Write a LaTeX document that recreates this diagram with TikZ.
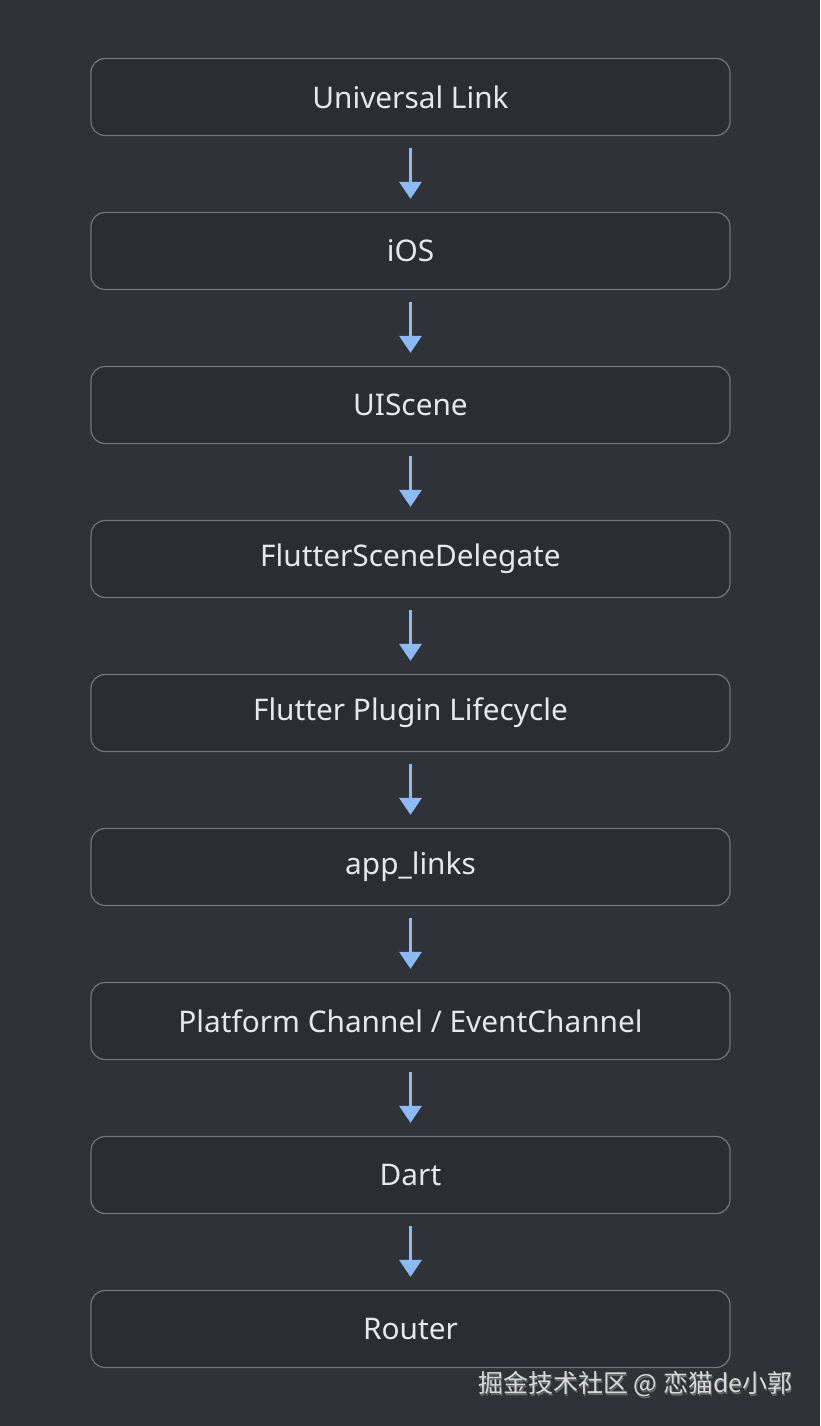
\documentclass[tikz,border=0pt]{standalone}
\usepackage{fontspec}
\setmainfont{Noto Sans}
\newfontfamily\cjk{Noto Sans CJK SC}
\definecolor{bgcol}{HTML}{2F3237}
\definecolor{boxfill}{HTML}{2A2D31}
\definecolor{boxline}{HTML}{72767D}
\definecolor{arrowcol}{HTML}{8DBAF4}
\definecolor{textcol}{HTML}{E6E8EB}
\tikzset{
  stage/.style={draw=boxline, fill=boxfill, line width=1.2pt, rounded corners=14pt,
    minimum width=639pt, minimum height=77pt, text=textcol,
    font=\fontsize{29.8}{34}\selectfont},
  flow/.style={draw=arrowcol, line width=3pt, -{Triangle[width=22pt,length=17pt]},
    shorten <=12pt, shorten >=13pt}
}
\usetikzlibrary{arrows.meta}
\begin{document}
\begin{tikzpicture}[x=1pt,y=-1pt]

    \fill[bgcol] (0,0) rectangle (820,1426);
    \useasboundingbox (0,0) rectangle (820,1426);

    \node[stage] (link) at (410.5,97)
        {Universal Link};

    \node[stage] (ios) at (410.5,251)
        {iOS};

    \node[stage] (scene) at (410.5,405)
        {UIScene};

    \node[stage] (delegate) at (410.5,559)
        {FlutterSceneDelegate};

    \node[stage] (plugin) at (410.5,713)
        {Flutter Plugin Lifecycle};

    \node[stage] (applinks) at (410.5,867)
        {app\_links};

    \node[stage] (channel) at (410.5,1021)
        {Platform Channel / EventChannel};

    \node[stage] (dart) at (410.5,1175)
        {Dart};

    \node[stage] (router) at (410.5,1329)
        {Router};

    \draw[flow] (link) -- (ios);
    \draw[flow] (ios) -- (scene);
    \draw[flow] (scene) -- (delegate);
    \draw[flow] (delegate) -- (plugin);
    \draw[flow] (plugin) -- (applinks);
    \draw[flow] (applinks) -- (channel);
    \draw[flow] (channel) -- (dart);
    \draw[flow] (dart) -- (router);

    % watermark
    \node[anchor=east, text=black!60, font=\cjk\fontsize{25}{29}\selectfont] (markshadow) at (797,1385.5)
        {掘金技术社区 @ 恋猫de小郭};
    \node[anchor=east, text=white!85!black, font=\cjk\fontsize{25}{29}\selectfont] (mark) at (796,1384)
        {掘金技术社区 @ 恋猫de小郭};

\end{tikzpicture}
\end{document}
